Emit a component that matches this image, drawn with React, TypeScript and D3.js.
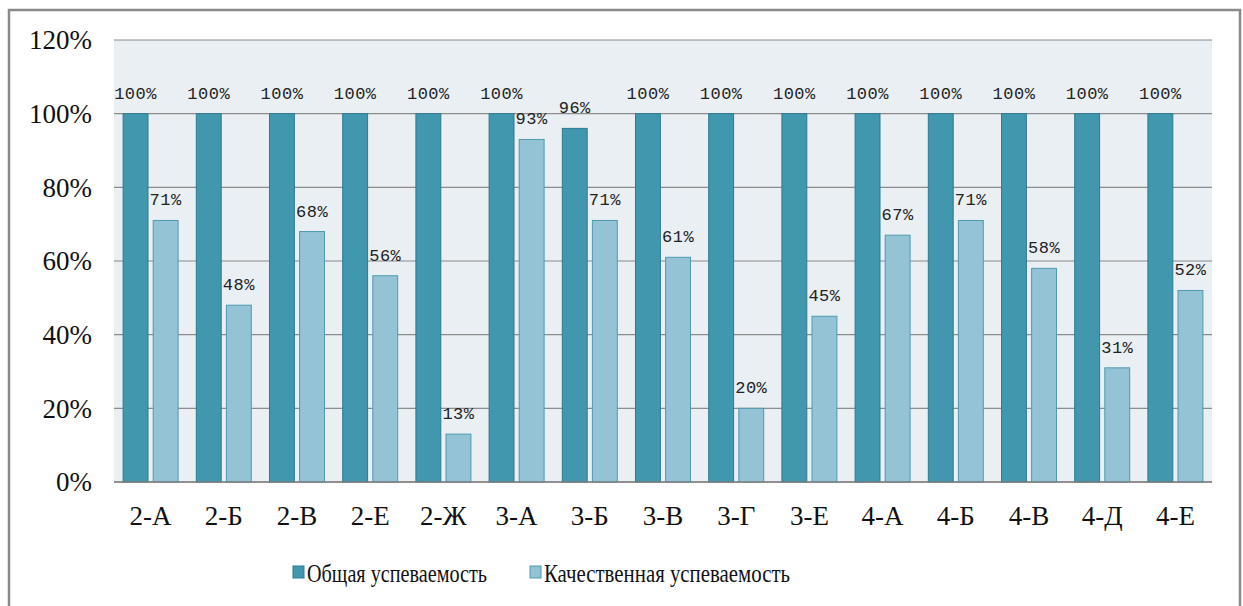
import React from 'react'
import * as d3 from 'd3'

const categories = ['2-А', '2-Б', '2-В', '2-Е', '2-Ж', '3-А', '3-Б', '3-В', '3-Г', '3-Е', '4-А', '4-Б', '4-В', '4-Д', '4-Е']
const overall = [100, 100, 100, 100, 100, 100, 96, 100, 100, 100, 100, 100, 100, 100, 100]
const quality = [71, 48, 68, 56, 13, 93, 71, 61, 20, 45, 67, 71, 58, 31, 52]
const seriesNames = ['Общая успеваемость', 'Качественная успеваемость']
const yTicks = [0, 20, 40, 60, 80, 100, 120]

const W = 1243
const H = 606
const plot = { left: 114, right: 1212, top: 40, bottom: 482 }
const darkFill = '#4197AE'
const darkStroke = '#2E7A90'
const lightFill = '#93C3D4'
const lightStroke = '#4F9AB0'
const serif = 'Liberation Serif, DejaVu Serif, Times New Roman, serif'
const mono = 'Liberation Mono, DejaVu Sans Mono, Courier New, monospace'

export default function App() {
  const x = d3
    .scaleBand<string>()
    .domain(categories)
    .range([plot.left, plot.right])
    .paddingInner(0.235)
    .paddingOuter(0.1175)

  const inner = d3
    .scaleBand<number>()
    .domain([0, 1])
    .range([0, x.bandwidth()])
    .paddingInner(0.14)

  const y = d3.scaleLinear().domain([0, 120]).range([plot.bottom, plot.top])

  const series = [
    { values: overall, fill: darkFill, stroke: darkStroke },
    { values: quality, fill: lightFill, stroke: lightStroke }
  ]

  const legendItems = [
    { x: 293, fill: darkFill, stroke: darkStroke, name: seriesNames[0], len: 180 },
    { x: 530, fill: lightFill, stroke: lightStroke, name: seriesNames[1], len: 246 }
  ]

  return (
    <div style={{ position: 'absolute', left: 0, top: 0 }}>
      <svg width={W} height={H} style={{ display: 'block', background: '#fff' }}>
        <rect x={9} y={10} width={1231} height={610} fill="#fff" stroke="#8a8a8a" strokeWidth={2.5} />

        <rect
          x={plot.left}
          y={plot.top}
          width={plot.right - plot.left}
          height={plot.bottom - plot.top}
          fill="#E9EFF3"
        />

        {yTicks.map(t => (
          <g key={t}>
            <line x1={plot.left} x2={plot.right} y1={y(t)} y2={y(t)} stroke="#8c8c8c" strokeWidth={1.2} />
            <text
              x={92}
              y={y(t)}
              dy="0.35em"
              textAnchor="end"
              style={{ fontFamily: serif, fontSize: 27 }}
              fill="#111"
            >
              {t}%
            </text>
          </g>
        ))}

        {series.map((s, si) =>
          categories.map((c, i) => {
            const bx = (x(c) as number) + (inner(si) as number)
            const bw = inner.bandwidth()
            return (
              <g key={c + si}>
                <rect
                  x={bx + 0.5}
                  y={y(s.values[i])}
                  width={bw - 1}
                  height={plot.bottom - y(s.values[i])}
                  fill={s.fill}
                  stroke={s.stroke}
                  strokeWidth={1}
                />
                <text
                  x={bx + bw / 2}
                  y={y(s.values[i]) - 15}
                  textAnchor="middle"
                  style={{ fontFamily: mono, fontSize: 17, letterSpacing: 0.5 }}
                  fill="#222"
                >
                  {s.values[i]}%
                </text>
              </g>
            )
          })
        )}

        <line x1={plot.left} x2={plot.right} y1={plot.bottom} y2={plot.bottom} stroke="#7f7f7f" strokeWidth={1.5} />

        {categories.map(c => (
          <text
            key={c}
            x={(x(c) as number) + x.bandwidth() / 2}
            y={525}
            textAnchor="middle"
            style={{ fontFamily: serif, fontSize: 27 }}
            fill="#111"
          >
            {c}
          </text>
        ))}

        {legendItems.map(l => (
          <g key={l.name}>
            <rect x={l.x} y={566} width={11} height={12} fill={l.fill} stroke={l.stroke} strokeWidth={1} />
            <text
              x={l.x + 14}
              y={582}
              style={{ fontFamily: serif, fontSize: 25 }}
              textLength={l.len}
              lengthAdjust="spacingAndGlyphs"
              fill="#111"
            >
              {l.name}
            </text>
          </g>
        ))}
      </svg>
    </div>
  )
}
